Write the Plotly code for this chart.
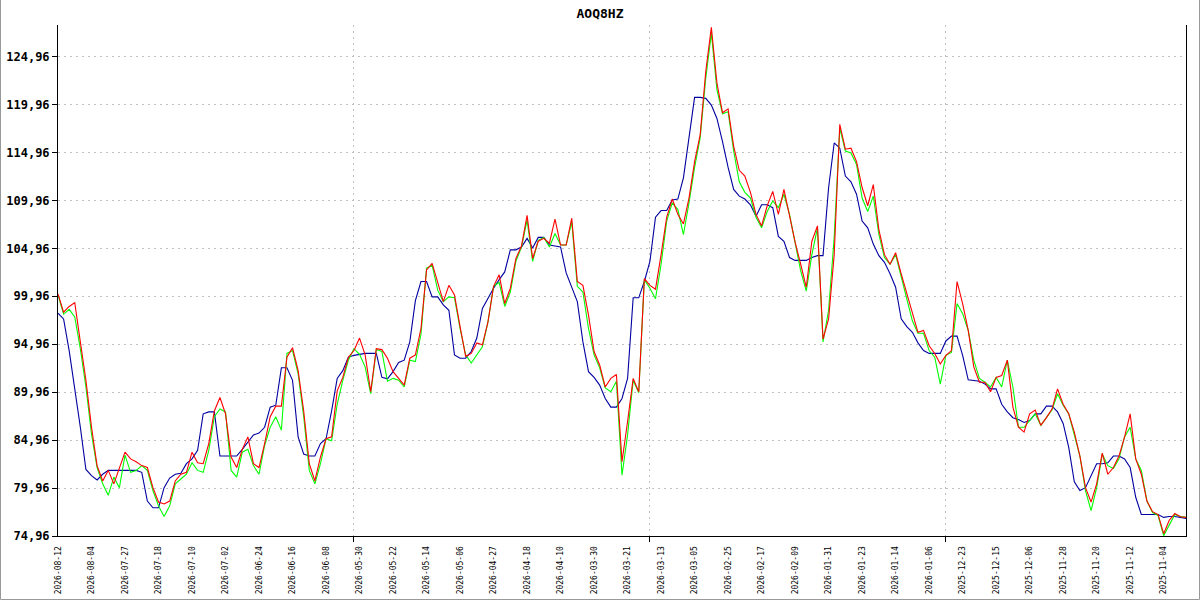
import plotly.graph_objects as go

# values, left to right (one point per trading day)
green = [
    100.1, 98.1, 98.6, 97.8, 94.5, 90.5, 85.6, 82.1, 80.4, 79.2,
    81.1, 80.0, 83.4, 81.6, 81.8, 82.3, 81.8, 79.7, 78.1, 77.0,
    78.1, 80.4, 80.9, 81.4, 82.6, 81.8, 81.6, 83.9, 87.4, 88.2,
    87.9, 81.8, 81.1, 83.7, 84.0, 82.3, 81.4, 84.4, 86.3, 87.4,
    86.0, 94.0, 94.3, 91.9, 87.4, 81.8, 80.4, 82.5, 85.1, 84.9,
    88.7, 91.2, 93.3, 94.5, 93.9, 92.6, 89.8, 94.4, 94.2, 91.1,
    91.4, 91.2, 90.5, 93.3, 93.15, 96.0, 102.9, 103.2, 100.6, 99.4,
    99.9, 99.8, 96.6, 93.85, 93.0, 93.85, 94.7, 97.3, 101.0, 101.4,
    98.9, 100.4, 103.6, 105.1, 107.9, 103.6, 105.8, 106.1, 105.1, 106.5,
    105.3, 105.3, 107.7, 101.0, 100.4, 96.6, 93.85, 92.5, 90.4, 90.0,
    91.1, 81.3, 85.5, 91.2, 89.9, 101.7, 100.8, 99.7, 103.3, 107.8,
    109.7, 109.0, 106.4, 109.7, 113.4, 116.5, 122.7, 127.4, 121.5, 119.0,
    119.2, 115.1, 111.9, 110.8, 110.2, 108.2, 107.1, 108.8, 109.9, 109.2,
    110.6, 108.5, 105.7, 102.6, 100.5, 104.3, 107.1, 95.2, 98.5, 106.1,
    117.5, 115.1, 114.9, 113.7, 110.2, 108.8, 110.4, 106.4, 104.0, 103.3,
    104.3, 102.1, 99.7, 97.4, 96.1, 96.1, 94.3, 93.6, 90.8, 93.8,
    94.1, 99.2, 98.15, 96.4, 93.3, 91.4, 91.0, 90.5, 91.5, 90.5,
    93.3, 90.5, 86.3, 86.3, 87.0, 87.7, 86.5, 87.3, 88.1, 89.8,
    88.6, 87.7, 85.6, 83.3, 79.7, 77.6, 80.0, 83.5, 82.3, 82.0,
    83.0, 85.3, 86.3, 83.0, 81.8, 78.6, 77.4, 77.1, 75.0, 76.1,
    77.2, 77.0, 76.9,
]

red = [
    100.2, 98.3, 98.9, 99.3, 95.2, 91.2, 86.3, 82.3, 80.7, 81.8,
    80.4, 82.0, 83.7, 83.0, 82.7, 82.3, 82.1, 80.0, 78.5, 78.3,
    78.6, 80.7, 81.4, 81.6, 83.7, 82.6, 82.5, 84.6, 88.0, 89.4,
    87.7, 83.2, 82.1, 84.0, 85.3, 82.5, 82.1, 84.6, 87.4, 88.5,
    88.5, 93.6, 94.6, 92.2, 88.0, 82.5, 80.7, 83.2, 85.1, 85.3,
    90.1, 91.5, 93.6, 94.3, 95.6, 93.85, 90.0, 94.5, 94.4, 93.5,
    92.1, 91.4, 90.7, 93.5, 93.85, 96.6, 102.7, 103.4, 101.3, 99.4,
    101.1, 100.1, 96.8, 93.7, 94.0, 95.1, 94.9, 97.3, 101.0, 102.2,
    99.2, 100.8, 103.9, 105.2, 108.4, 103.9, 105.7, 106.0, 105.5, 108.0,
    105.3, 105.3, 108.1, 101.5, 101.1, 98.0, 94.2, 92.8, 90.5, 91.4,
    91.8, 82.7, 86.9, 91.4, 90.0, 101.8, 101.1, 100.7, 104.3, 108.2,
    110.1, 108.5, 107.5, 110.2, 114.0, 116.8, 123.4, 128.0, 122.2, 119.1,
    119.5, 115.6, 113.1, 112.5, 110.8, 108.5, 107.3, 109.4, 110.9, 108.5,
    111.1, 108.2, 105.6, 103.3, 100.9, 105.7, 107.3, 95.5, 97.6, 104.3,
    117.9, 115.3, 115.4, 114.0, 111.3, 109.4, 111.6, 106.9, 104.3, 103.3,
    104.5, 102.3, 100.2, 98.1, 96.2, 96.4, 94.8, 94.0, 92.9, 93.8,
    94.3, 101.5, 99.2, 96.4, 92.6, 91.0, 91.0, 90.0, 91.5, 91.7,
    93.3, 88.4, 86.3, 85.8, 87.7, 88.1, 86.5, 87.3, 88.2, 90.3,
    88.7, 87.7, 85.8, 83.3, 80.0, 78.5, 80.4, 83.6, 81.4, 82.1,
    83.3, 85.3, 87.7, 83.0, 81.4, 78.6, 77.5, 77.2, 75.2, 76.6,
    77.3, 76.96, 76.9,
]

blue = [
    98.2, 97.6, 94.3, 90.5, 86.3, 81.9, 81.25, 80.8, 81.4, 81.8,
    81.8, 81.8, 81.8, 81.8, 81.8, 81.6, 78.6, 77.9, 77.9, 80.0,
    81.0, 81.4, 81.5, 82.5, 83.0, 83.9, 87.7, 87.9, 87.9, 83.3,
    83.3, 83.3, 83.3, 84.0, 84.7, 85.5, 85.7, 86.3, 88.4, 88.6,
    92.5, 92.5, 91.2, 85.3, 83.5, 83.3, 83.3, 84.6, 85.1, 88.0,
    91.4, 92.2, 93.6, 93.8, 93.9, 94.0, 94.0, 94.0, 91.5, 91.35,
    92.1, 93.05, 93.3, 95.2, 99.5, 101.5, 101.5, 99.9, 99.9, 99.06,
    98.5, 93.85, 93.5, 93.5, 94.2, 95.6, 98.7, 99.8, 100.8, 101.7,
    102.5, 104.8, 104.8, 105.1, 106.0, 105.0, 106.1, 106.1, 105.3, 105.2,
    105.1, 102.4, 101.0, 99.4, 95.2, 92.1, 91.5, 90.7, 89.3, 88.4,
    88.4, 89.3, 91.4, 99.8, 99.8, 101.5, 103.6, 108.2, 108.9, 108.9,
    110.0, 110.1, 112.3, 116.8, 120.7, 120.7, 120.6, 119.9, 118.5, 116.1,
    113.4, 111.1, 110.4, 110.1, 109.5, 108.3, 109.5, 109.5, 109.2, 106.2,
    105.7, 104.0, 103.7, 103.7, 103.7, 104.0, 104.2, 104.2, 111.3, 115.95,
    115.4, 112.5, 111.9, 110.6, 107.8, 107.1, 105.4, 104.2, 103.5, 102.3,
    100.9, 97.6, 96.8, 96.2, 95.1, 94.3, 94.0, 94.0, 94.0, 95.3,
    95.8, 95.8, 93.8, 91.25, 91.2, 91.1, 90.8, 90.3, 90.3, 88.7,
    87.9, 87.3, 87.1, 86.8, 87.0, 87.7, 87.7, 88.5, 88.5, 87.9,
    86.7, 84.2, 80.6, 79.7, 80.0, 81.2, 82.5, 82.5, 82.6, 83.3,
    83.3, 83.0, 82.1, 79.0, 77.2, 77.2, 77.2, 77.2, 76.9, 77.0,
    77.0, 76.9, 76.8,
]

date_labels = [
    "2026-08-12", "2026-08-04", "2026-07-27", "2026-07-18", "2026-07-10",
    "2026-07-02", "2026-06-24", "2026-06-16", "2026-06-08", "2026-05-30",
    "2026-05-22", "2026-05-14", "2026-05-06", "2026-04-27", "2026-04-18",
    "2026-04-10", "2026-03-30", "2026-03-21", "2026-03-13", "2026-03-05",
    "2026-02-25", "2026-02-17", "2026-02-09", "2026-01-31", "2026-01-23",
    "2026-01-14", "2026-01-06", "2025-12-23", "2025-12-15", "2025-12-06",
    "2025-11-28", "2025-11-20", "2025-11-12", "2025-11-04",
]
label_step = 6
grid_step = 53

y_ticks = [74.96 + 5 * k for k in range(11)]
y_text = ["{:.2f}".format(v).replace(".", ",") for v in y_ticks]

x = list(range(len(red)))
label_pos = [i * label_step for i in range(len(date_labels))]
grid_pos = list(range(grid_step, len(red), grid_step))

fig = go.Figure()
fig.add_trace(go.Scatter(x=x, y=blue, mode="lines", line=dict(color="#0000a0", width=1.1)))
fig.add_trace(go.Scatter(x=x, y=green, mode="lines", line=dict(color="#00ff00", width=1.1)))
fig.add_trace(go.Scatter(x=x, y=red, mode="lines", line=dict(color="#ff0000", width=1.1)))

fig.update_layout(
    width=1200, height=600,
    margin=dict(l=58, r=14, t=25, b=64, autoexpand=False),
    paper_bgcolor="white", plot_bgcolor="white",
    showlegend=False,
    title=dict(text="AOQ8HZ", x=0.5, xref="container", xanchor="center",
               y=0.985, yanchor="top",
               font=dict(family="DejaVu Sans Mono", size=13, color="black", weight="bold")),
)

fig.update_xaxes(
    range=[0, len(red) - 1], automargin=False,
    tickmode="array", tickvals=label_pos, ticktext=date_labels,
    tickangle=-90, ticks="", showgrid=False, zeroline=False,
    tickfont=dict(family="DejaVu Sans Mono", size=8, color="black"),
    ticklabelstandoff=6,
    showline=True, linecolor="black", linewidth=1,
    minor=dict(tickmode="array", tickvals=grid_pos, ticks="outside", ticklen=5,
               tickcolor="black", showgrid=True, gridcolor="#c0c0c0",
               griddash="2px,4px", gridwidth=1),
)

fig.update_yaxes(
    range=[74.96, 128.25], automargin=False,
    tickmode="array", tickvals=y_ticks, ticktext=y_text,
    ticks="outside", ticklen=5, tickcolor="black",
    showgrid=True, gridcolor="#c0c0c0", griddash="2px,4px", gridwidth=1,
    zeroline=False,
    tickfont=dict(family="DejaVu Sans Mono", size=12, color="black", weight="bold"),
    showline=True, mirror=True, linecolor="black", linewidth=1,
)

# thin grey frame round the whole picture
fig.add_shape(type="rect", xref="paper", yref="paper",
              x0=-57.5 / 1128, x1=1141.5 / 1128, y0=-63.5 / 511, y1=574.5 / 511,
              line=dict(color="#999999", width=1), fillcolor="rgba(0,0,0,0)")

# page body has a default 8px margin; remove it so the figure sits at the window corner
fig.write_html("out.html", config={"displayModeBar": False},
               post_script="document.body.style.margin='0';document.body.style.overflow='hidden';")
